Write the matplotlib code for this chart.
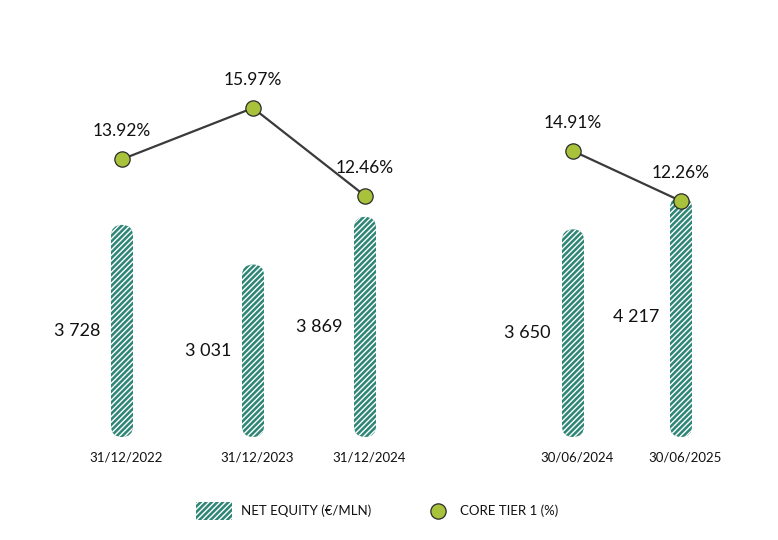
import matplotlib
matplotlib.use("Agg")
import matplotlib.pyplot as plt
from matplotlib.patches import FancyBboxPatch
from matplotlib.lines import Line2D

plt.rcParams["font.family"] = "Lato"
plt.rcParams["hatch.linewidth"] = 1.0

dates = ["31/12/2022", "31/12/2023", "31/12/2024", "30/06/2024", "30/06/2025"]
equity = [3728, 3031, 3869, 3650, 4217]
equity_labels = ["3 728", "3 031", "3 869", "3 650", "4 217"]
core_tier_a = [13.92, 15.97, 12.46]
core_tier_b = [14.91, 12.26]

xpos = [122, 253, 365, 573, 681]  # layout positions (pixels)

W, H = 778, 540
fig = plt.figure(figsize=(W / 100, H / 100), dpi=100)
left, right, top, bottom = 0, 778, 40, 437
rect = [left / W, (H - bottom) / H, (right - left) / W, (bottom - top) / H]
ax = fig.add_axes(rect)
ax.set_xlim(left, right)
ymax = (bottom - top) / 0.0569
ax.set_ylim(0, ymax)
ax.axis("off")
ypp = ymax / (bottom - top)
teal = "#2f8676"
bw = 22
for x, v, lab, d in zip(xpos, equity, equity_labels, dates):
    p = FancyBboxPatch((x - bw / 2, 0), bw, v,
                       boxstyle=f"round,pad=0,rounding_size={bw/2}",
                       mutation_aspect=ypp, facecolor=teal, edgecolor="white",
                       hatch="//////", linewidth=0)
    ax.add_patch(p)
    ax.text(x - 22, v / 2, lab, ha="right", va="center", fontsize=13, color="#111111")
    ax.text(x + 4, -20 * ypp, d, ha="center", va="center", fontsize=9.5, color="#111111")

green = "#a8c23c"
def line_axes(xs, vals, lo, hi):
    a = fig.add_axes(rect)
    a.set_xlim(left, right)
    a.set_ylim(lo, hi)
    a.axis("off")
    a.patch.set_alpha(0)
    a.plot(xs, vals, color="#3a3a3a", lw=1.6, zorder=2)
    a.plot(xs, vals, "o", ms=11, mfc=green, mec="#2a2a2a", mew=0.9, zorder=3)
    upp = (hi - lo) / (bottom - top)
    for x, v in zip(xs, vals):
        a.text(x, v + 28 * upp, f"{v:.2f}%", ha="center", va="center", fontsize=12.5, color="#111111")

line_axes(xpos[:3], core_tier_a, 15.97 + 68 / 25 - 397 / 25, 15.97 + 68 / 25)
line_axes(xpos[3:], core_tier_b, 14.91 + 111 / 18.9 - 397 / 18.9, 14.91 + 111 / 18.9)

lg = fig.add_axes([0, 0, 1, 1])
lg.set_xlim(0, W)
lg.set_ylim(H, 0)
lg.axis("off")
lg.patch.set_alpha(0)
lg.add_patch(plt.Rectangle((196, 502), 36, 18, facecolor=teal, edgecolor="white", hatch="//////", linewidth=0))
lg.text(241, 511, "NET EQUITY (€/MLN)", va="center", fontsize=9.5, color="#111111")
lg.plot([438], [511], "o", ms=11, mfc=green, mec="#2a2a2a", mew=0.9)
lg.text(460, 511, "CORE TIER 1 (%)", va="center", fontsize=9.5, color="#111111")

fig.savefig("out.png", dpi=100)
